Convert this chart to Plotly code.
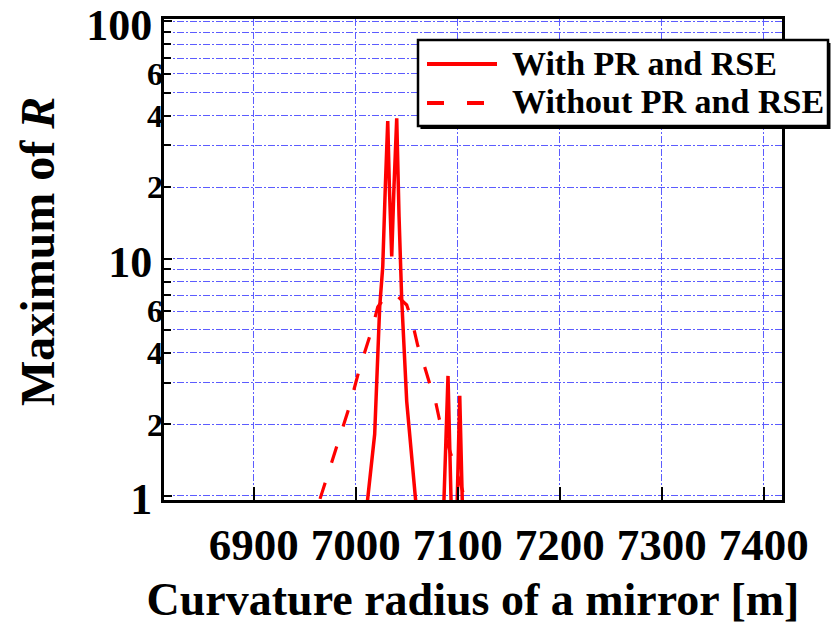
import plotly.graph_objects as go

# ---------------- data ----------------
with_x = [7011.5, 7015, 7018.6, 7023.5, 7026.5, 7029, 7031.4, 7033, 7035.3, 7037.5, 7040.2,
          7042.5, 7044, 7045.1, 7050, 7055, 7058.8,
          None,
          7086.5, 7090.5, 7093.5,
          None,
          7099.5, 7102, 7104.5]
with_y = [0.95, 1.3, 1.82, 6.25, 9.25, 20, 38, 20, 10.2, 20, 39,
          15, 8.5, 6.7, 2.5, 1.4, 0.95,
          None,
          0.95, 3.2, 0.95,
          None,
          0.95, 2.64, 0.95]

without_x = [6965, 6977.5, 6994, 7004, 7010.8, 7015.7, 7021.6, 7030.4, 7040, 7050, 7055,
             7060.8, 7065.7, 7072.5, 7077.5, 7082, 7087, 7097, 7107]
without_y = [0.97, 1.44, 2.39, 3.47, 4.3, 4.99, 6.25, 7.03, 7.0, 6.37, 5.5,
             4.3, 3.72, 2.97, 2.59, 2.1, 1.82, 1.33, 0.98]

series_names = ["With PR and RSE", "Without PR and RSE"]

x_ticks = [6900, 7000, 7100, 7200, 7300, 7400]
y_major_vals = [1, 10, 100]
y_major_text = ["1", "10", "100"]
y_minor_vals = [2, 3, 4, 5, 6, 7, 8, 9, 20, 30, 40, 50, 60, 70, 80, 90]
y_minor_text = ["2", "", "4", "", "6", "", "", "", "2", "", "4", "", "6", "", "", ""]

# ---------------- figure ----------------
FONT = "Liberation Serif"
W, H = 831, 625
ML, MR, MT, MB = 164, 49, 19, 125
PW, PH = W - ML - MR, H - MT - MB
YRANGE = [-0.018, 2.01]


def px(xp):
    return (xp - ML) / PW


def py(yp):
    return (H - MB - yp) / PH


fig = go.Figure()
fig.add_trace(go.Scatter(x=with_x, y=with_y, mode="lines", name=series_names[0],
                         line=dict(color="#ff0000", width=3.5), connectgaps=False,
                         showlegend=False))
# same log range as y, so this just carries the minor-tick axis
fig.add_trace(go.Scatter(x=without_x, y=without_y, mode="lines", name=series_names[1],
                         line=dict(color="#ff0000", width=3.2, dash="17px,21px"),
                         showlegend=False, yaxis="y2"))

grid = "#5c5cff"
gdash = "7px,2px,2px,2px"
gw = 1.2
fig.update_layout(
    width=W, height=H,
    margin=dict(l=ML, r=MR, t=MT, b=MB, autoexpand=False),
    paper_bgcolor="white", plot_bgcolor="white",
    font=dict(family=FONT, color="black"),
    xaxis=dict(
        range=[6812, 7418], tickvals=x_ticks, automargin=False,
        ticks="inside", ticklen=13, tickwidth=2, tickcolor="black",
        showline=True, linecolor="black", linewidth=3, mirror=True,
        showgrid=True, gridcolor=grid, gridwidth=gw, griddash=gdash,
        zeroline=False, ticklabelstandoff=3,
        tickfont=dict(family=FONT, size=45, weight="bold"),
        title=dict(text="Curvature radius of a mirror [m]",
                   font=dict(family=FONT, size=46, weight="bold"), standoff=24),
    ),
    yaxis=dict(
        type="log", range=YRANGE, automargin=False,
        tickvals=y_major_vals, ticktext=y_major_text, ticklabeloverflow="allow",
        ticklabelshift=3,
        ticks="inside", ticklen=8, tickwidth=2, tickcolor="black",
        showline=True, linecolor="black", linewidth=3, mirror=True,
        showgrid=True, gridcolor=grid, gridwidth=gw, griddash=gdash,
        zeroline=False,
        tickfont=dict(family=FONT, size=44, weight="bold"),
    ),
    yaxis2=dict(
        type="log", range=YRANGE, overlaying="y", anchor="x", side="left", automargin=False,
        tickvals=y_minor_vals, ticktext=y_minor_text, ticklabeloverflow="allow",
        ticks="inside", ticklen=7, tickwidth=2, tickcolor="black",
        showline=False, showgrid=True, gridcolor=grid, gridwidth=gw, griddash=gdash,
        zeroline=False,
        tickfont=dict(family=FONT, size=32, weight="bold"),
    ),
)

# y-axis title placed as text
fig.add_annotation(xref="paper", yref="paper", x=px(37), y=py(252), xanchor="center", yanchor="middle",
                   text="Maximum of <i>R</i>", textangle=-90, showarrow=False,
                   font=dict(family=FONT, size=48, weight="bold", color="black"))

# ---------------- legend (drawn as decoration) ----------------
box = dict(x0=px(418), x1=px(828), y0=py(126), y1=py(40))
fig.add_shape(type="rect", xref="paper", yref="paper", x0=box["x0"] + 0.004, x1=box["x1"] + 0.004,
              y0=box["y0"] - 0.006, y1=box["y1"] - 0.006, line=dict(width=0), fillcolor="black",
              layer="above")
fig.add_shape(type="rect", xref="paper", yref="paper", **box,
              line=dict(color="black", width=2.5), fillcolor="white", layer="above")
fig.add_shape(type="line", xref="paper", yref="paper", x0=px(427), x1=px(497), y0=py(64), y1=py(64),
              line=dict(color="#ff0000", width=4), layer="above")
fig.add_shape(type="line", xref="paper", yref="paper", x0=px(427), x1=px(487), y0=py(103), y1=py(103),
              line=dict(color="#ff0000", width=4, dash="17px,23px"), layer="above")
for name, yy in zip(series_names, [64, 102]):
    fig.add_annotation(xref="paper", yref="paper", x=px(510), y=py(yy), xanchor="left", yanchor="middle",
                       text=name, showarrow=False,
                       font=dict(family=FONT, size=34, weight="bold", color="black"))

fig.write_html("out.html", config={"displayModeBar": False},
               post_script="document.body.style.margin='0';document.body.style.overflow='hidden';")
